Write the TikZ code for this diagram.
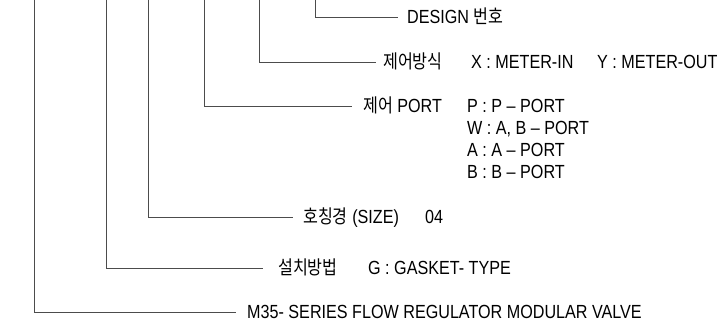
\documentclass[tikz,border=0pt]{standalone}
\usepackage{fontspec}
\setmainfont{Liberation Sans}[FakeStretch=0.85]
\newfontfamily\krfont{Noto Sans CJK KR}[FakeStretch=0.85]
\newcommand{\kr}[1]{{\krfont #1}}
\begin{document}
\begin{tikzpicture}[
    x=1pt, y=-1pt,
    leader/.style={draw=black!70, line width=0.8pt},
    lbl/.style={anchor=west, inner sep=0pt, text height=13.6pt, text depth=0pt,
                font=\fontsize{19}{21}\selectfont}]
  \useasboundingbox (0,0) rectangle (722,328);
  % top ends of the leaders
  \coordinate (t1) at (34,0);
  \coordinate (t2) at (106,0);
  \coordinate (t3) at (148,0);
  \coordinate (t4) at (204,0);
  \coordinate (t5) at (259,0);
  \coordinate (t6) at (315,0);
  % labels
  \node[lbl] (design) at (407,17) {DESIGN \kr{번호}};
  \node[lbl] (ctrl)   at (383,62) {\kr{제어방식}};
  \node[lbl] (ctrlx)  at (471,62) {X : METER-IN};
  \node[lbl] (ctrly)  at (597,62) {Y : METER-OUT};
  \node[lbl] (port)   at (363,106) {\kr{제어} PORT};
  \node[lbl] (portp)  at (467,106) {P : P -- PORT};
  \node[lbl] (portw)  at (467,128) {W : A, B -- PORT};
  \node[lbl] (porta)  at (467,150) {A : A -- PORT};
  \node[lbl] (portb)  at (467,172) {B : B -- PORT};
  \node[lbl] (size)   at (303,217) {\kr{호칭경} (SIZE)};
  \node[lbl] (sizev)  at (425,217) {04};
  \node[lbl] (mount)  at (278,268) {\kr{설치방법}};
  \node[lbl] (mountv) at (368,268) {G : GASKET- TYPE};
  \node[lbl] (series) at (247,312) {M35- SERIES FLOW REGULATOR MODULAR VALVE};
  % leaders
  \draw[leader] (t6) |- ([xshift=-9pt]design.west);
  \draw[leader] (t5) |- ([xshift=-7pt]ctrl.west);
  \draw[leader] (t4) |- ([xshift=-11pt]port.west);
  \draw[leader] (t3) |- ([xshift=-10pt]size.west);
  \draw[leader] (t2) |- ([xshift=-15pt]mount.west);
  \draw[leader] (t1) |- ([xshift=-11pt]series.west);
\end{tikzpicture}
\end{document}
